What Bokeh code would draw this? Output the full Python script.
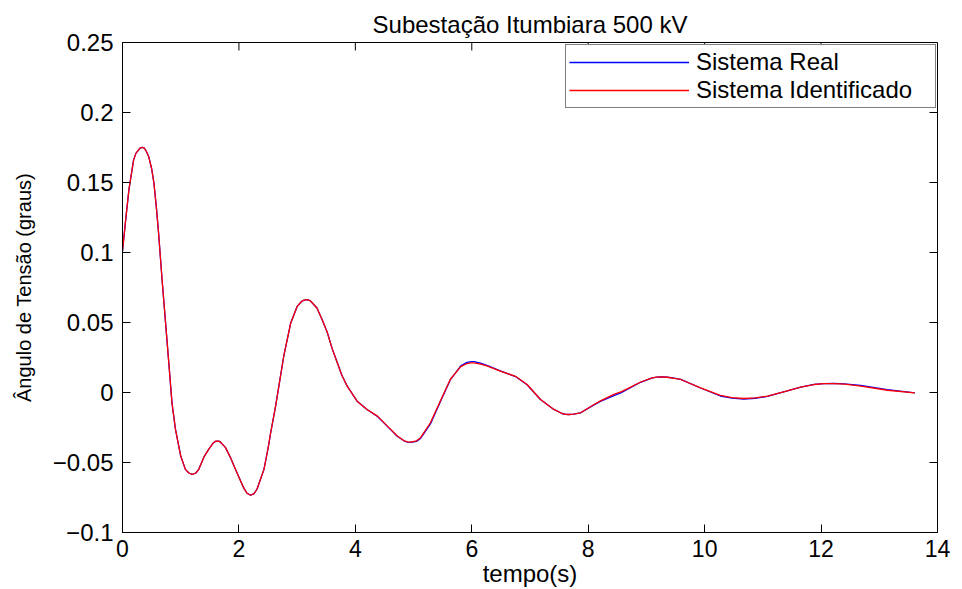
import math
from bokeh.plotting import figure
from bokeh.models import Range1d, FixedTicker, Legend, LegendItem
from bokeh.embed import file_html
from bokeh.resources import INLINE

title_text = "Subestação Itumbiara 500 kV"
x_label = "tempo(s)"
y_label = "Ângulo de Tensão (graus)"
series_names = ["Sistema Real", "Sistema Identificado"]

x_ticks = [0, 2, 4, 6, 8, 10, 12, 14]
y_ticks = [-0.1, -0.05, 0, 0.05, 0.1, 0.15, 0.2, 0.25]
y_tick_labels = ["\u22120.1", "\u22120.05", "0", "0.05", "0.1", "0.15", "0.2", "0.25"]

t = [0.00, 0.05, 0.11, 0.19, 0.23, 0.27, 0.30, 0.34, 0.37, 0.40, 0.45, 0.50, 0.54,
     0.58, 0.62, 0.68, 0.74, 0.80, 0.85, 0.91, 1.00, 1.08, 1.14, 1.20, 1.26, 1.31,
     1.40, 1.48, 1.56, 1.59, 1.63, 1.67, 1.70, 1.77, 1.86, 1.94, 2.08, 2.14, 2.20,
     2.26, 2.31, 2.43, 2.50, 2.54, 2.63, 2.77, 2.89, 3.00, 3.08, 3.12, 3.17, 3.22,
     3.25, 3.34, 3.43, 3.52, 3.60, 3.69, 3.77, 3.86, 4.03, 4.20, 4.38, 4.55, 4.72,
     4.84, 4.90, 4.95, 5.05, 5.12, 5.29, 5.46, 5.63, 5.81, 5.92, 5.99, 6.04, 6.15,
     6.27, 6.49, 6.75, 6.95, 7.18, 7.41, 7.55, 7.61, 7.67, 7.75, 7.87, 8.10, 8.21,
     8.44, 8.56, 8.67, 8.90, 9.10, 9.18, 9.27, 9.36, 9.45, 9.59, 9.93, 10.27, 10.47,
     10.67, 10.87, 11.08, 11.42, 11.65, 11.88, 12.05, 12.22, 12.40, 12.68, 13.14, 13.61]

identificado = [0.1010, 0.1215, 0.1447, 0.1660, 0.1708, 0.1730, 0.1745, 0.1751, 0.1748,
                0.1730, 0.1685, 0.1600, 0.1495, 0.1330, 0.1138, 0.0805, 0.0497, 0.0188,
                -0.0074, -0.0264, -0.0454, -0.0549, -0.0575, -0.0585, -0.0575, -0.0549,
                -0.0460, -0.0406, -0.0360, -0.0350, -0.0347, -0.0350, -0.0362, -0.0394,
                -0.0470, -0.0549, -0.0680, -0.0720, -0.0734, -0.0722, -0.0691, -0.0549,
                -0.0400, -0.0300, -0.0098, 0.0259, 0.0497, 0.0615, 0.0652, 0.0660,
                0.0663, 0.0657, 0.0645, 0.0604, 0.0520, 0.0426, 0.0315, 0.0212, 0.0122,
                0.0045, -0.0062, -0.0121, -0.0169, -0.0240, -0.0311, -0.0345, -0.0352,
                -0.0354, -0.0345, -0.0323, -0.0216, -0.0060, 0.0093, 0.0185, 0.0207,
                0.0212, 0.0212, 0.0203, 0.0188, 0.0152, 0.0116, 0.0057, -0.0050, -0.0121,
                -0.0150, -0.0156, -0.0157, -0.0154, -0.0145, -0.0086, -0.0060, -0.0014,
                0.0005, 0.0026, 0.0075, 0.0104, 0.0110, 0.0112, 0.0109, 0.0103, 0.0093,
                0.0033, -0.0021, -0.0036, -0.0043, -0.0038, -0.0026, 0.0012, 0.0038,
                0.0057, 0.0063, 0.0064, 0.0060, 0.0045, 0.0016, -0.0002]

real = [0.1010, 0.1215, 0.1447, 0.1660, 0.1708, 0.1730, 0.1745, 0.1751, 0.1748,
        0.1730, 0.1685, 0.1600, 0.1495, 0.1330, 0.1138, 0.0805, 0.0497, 0.0188,
        -0.0074, -0.0264, -0.0454, -0.0549, -0.0575, -0.0585, -0.0575, -0.0549,
        -0.0460, -0.0406, -0.0360, -0.0350, -0.0347, -0.0350, -0.0362, -0.0394,
        -0.0470, -0.0549, -0.0680, -0.0720, -0.0734, -0.0722, -0.0691, -0.0549,
        -0.0400, -0.0300, -0.0098, 0.0259, 0.0497, 0.0615, 0.0652, 0.0660,
        0.0663, 0.0657, 0.0645, 0.0604, 0.0520, 0.0426, 0.0315, 0.0212, 0.0122,
        0.0045, -0.0062, -0.0121, -0.0172, -0.0242, -0.0313, -0.0347, -0.0354,
        -0.0356, -0.0349, -0.0328, -0.0224, -0.0066, 0.0090, 0.0190, 0.0215,
        0.0220, 0.0221, 0.0210, 0.0192, 0.0154, 0.0114, 0.0055, -0.0050, -0.0121,
        -0.0150, -0.0156, -0.0157, -0.0154, -0.0145, -0.0088, -0.0064, -0.0022,
        -0.0003, 0.0022, 0.0073, 0.0104, 0.0110, 0.0112, 0.0109, 0.0104, 0.0094,
        0.0032, -0.0025, -0.0040, -0.0047, -0.0041, -0.0028, 0.0011, 0.0038,
        0.0058, 0.0064, 0.0065, 0.0062, 0.0051, 0.0021, -0.0002]

FONT = "Liberation Sans"

p = figure(width=962, height=589, x_range=Range1d(0, 14), y_range=Range1d(-0.1, 0.25),
           output_backend="svg", toolbar_location=None, title=title_text,
           min_border_left=122, min_border_right=25, min_border_top=42, min_border_bottom=56)
p.title.align = "center"
p.title.text_font = FONT
p.title.text_font_size = "24px"
p.title.text_font_style = "normal"
p.title.text_color = "black"
p.title.standoff = 10
p.xgrid.visible = False
p.ygrid.visible = False
p.outline_line_color = "black"
p.outline_line_width = 1
p.background_fill_color = "white"
p.border_fill_color = "white"

r1 = p.line(t, real, line_color="#0000ff", line_width=1.3)
r2 = p.line(t, identificado, line_color="#ff0000", line_width=1.3)

for ax, ticks in ((p.xaxis[0], x_ticks), (p.yaxis[0], y_ticks)):
    ax.ticker = FixedTicker(ticks=ticks)
    ax.major_tick_in = 8
    ax.major_tick_out = 0
    ax.minor_tick_line_color = None
    ax.axis_line_color = "black"
    ax.major_tick_line_color = "black"
    ax.major_label_text_font = FONT
    ax.major_label_text_color = "black"
    ax.axis_label_text_font = FONT
    ax.axis_label_text_color = "black"
    ax.axis_label_text_font_style = "normal"

p.xaxis[0].major_label_text_font_size = "23px"
p.xaxis[0].major_label_standoff = 7
p.xaxis[0].axis_label = x_label
p.xaxis[0].axis_label_text_font_size = "24px"
p.xaxis[0].axis_label_standoff = 0

p.yaxis[0].major_label_text_font_size = "24px"
p.yaxis[0].major_label_standoff = 9
p.yaxis[0].major_label_overrides = {v: s for v, s in zip(y_ticks, y_tick_labels)}
p.yaxis[0].axis_label = y_label
p.yaxis[0].axis_label_text_font_size = "20px"
p.yaxis[0].axis_label_standoff = 15

# box ticks on top and right sides (MATLAB "box on")
p.ray(x=x_ticks[1:-1], y=[0.25] * (len(x_ticks) - 2), length=8, length_units="screen",
      angle=-math.pi / 2, line_color="black", line_width=1)
p.ray(x=[14] * (len(y_ticks) - 2), y=y_ticks[1:-1], length=8, length_units="screen",
      angle=math.pi, line_color="black", line_width=1)

legend = Legend(items=[LegendItem(label=series_names[0], renderers=[r1]),
                       LegendItem(label=series_names[1], renderers=[r2])],
                location=(443, 424), orientation="vertical",
                border_line_color="black", border_line_width=1,
                background_fill_color="white", background_fill_alpha=1.0,
                label_text_font=FONT, label_text_font_size="24px", label_text_color="black",
                glyph_width=120, glyph_height=22, label_height=22,
                label_standoff=7, padding=3, spacing=0, margin=0, label_width=236)
p.add_layout(legend)

open("out.html", "w").write(file_html(p, INLINE))
